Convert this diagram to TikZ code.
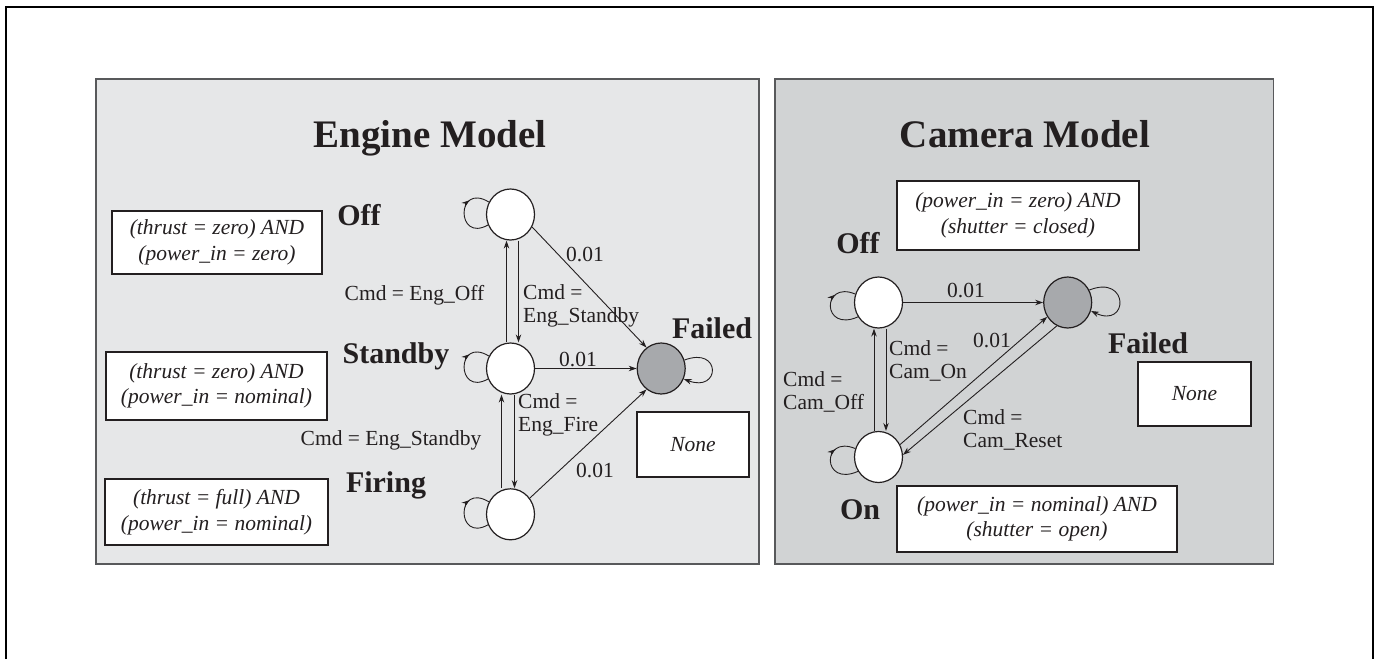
\documentclass[tikz,border=0pt]{standalone}
\usepackage{fontspec}
\setmainfont{Liberation Serif}
\usetikzlibrary{arrows.meta,shapes.geometric,decorations.markings}

\definecolor{ink}{HTML}{231F20}
\definecolor{enginebg}{HTML}{E6E7E8}
\definecolor{camerabg}{HTML}{D1D3D4}
\definecolor{failgray}{HTML}{A7A9AC}
\definecolor{panelrule}{HTML}{58595B}

\tikzset{
  tip/.tip={Stealth[length=8pt,width=5.5pt]},
  panel/.style={draw=panelrule, line width=1.6pt},
  titlefont/.style={font=\fontsize{39}{44}\selectfont\bfseries, text=ink, inner sep=0pt},
  statelbl/.style={font=\fontsize{30}{34}\selectfont\bfseries, text=ink, inner sep=0pt},
  state/.style={ellipse, draw=ink, line width=1.2pt, fill=white,
                minimum width=48pt, minimum height=51pt, inner sep=0pt},
  cond/.style={draw=ink, line width=1.3pt, fill=white, text=ink, align=center,
               font=\fontsize{21.5}{25.5}\selectfont\itshape, inner sep=0pt},
  lbl/.style={font=\fontsize{21.5}{23}\selectfont, text=ink, inner sep=0pt},
  lbll/.style={lbl, align=left, anchor=west},
  conn/.style={draw=ink, line width=0.9pt, -tip},
  loopL/.style={draw=ink, line width=0.9pt,
    decoration={markings, mark=at position 0.7 with {\arrow{tip}}},
    postaction={decorate}},
}

\begin{document}
\begin{tikzpicture}[x=1pt, y=-1pt]
\useasboundingbox (0,0) rectangle (1379,659);

% outer frame (runs off the lower edge of the page)
\draw[black, line width=2pt] (6,659) -- (6,7) -- (1373,7) -- (1373,659);

% ---------- Engine model ----------
\draw[panel, fill=enginebg] (96,79) rectangle (759,564);
\node[titlefont, anchor=base] (etitle) at (430,147) {Engine Model};

\node[state] (eoff)  at (510.5,214.5) {};
\node[state] (estb)  at (510.5,368.5) {};
\node[state] (efire) at (510.5,514.3) {};
\node[state, fill=failgray] (efail) at (661.2,368.5) {};

\node[statelbl, anchor=base] (eoffl)  at (359,225) {Off};
\node[statelbl, anchor=base] (estbl)  at (396,363) {Standby};
\node[statelbl, anchor=base] (efirel) at (386,492) {Firing};
\node[statelbl, anchor=base] (efaill) at (712,338) {Failed};

\node[cond, minimum width=210pt, minimum height=63pt] (eoffc)  at (217,242.5)
  {(thrust = zero) AND\\(power\_in = zero)};
\node[cond, minimum width=221pt, minimum height=68pt] (estbc)  at (216.5,386)
  {(thrust = zero) AND\\(power\_in = nominal)};
\node[cond, minimum width=223pt, minimum height=66pt] (efirec) at (216.5,512)
  {(thrust = full) AND\\(power\_in = nominal)};
\node[cond, minimum width=112pt, minimum height=65pt] (efailc) at (693,444.5) {None};

% transitions
\draw[conn] (eoff.-30) -- (efail.125);
\draw[conn] (estb.east) -- (efail.west);
\draw[conn] (efire.40) -- (efail.235);
\draw[conn] ([xshift=-4pt]estb.north) -- ([xshift=-4pt]eoff.south);
\draw[conn] ([xshift=8pt]eoff.south) -- ([xshift=8pt]estb.north);
\draw[conn] ([xshift=-9pt]efire.north) -- ([xshift=-9pt]estb.south);
\draw[conn] ([xshift=4pt]estb.south) -- ([xshift=4pt]efire.north);

% self loops
\draw[loopL] (eoff.205)  .. controls +(-32,18) and +(-33,-20) .. (eoff.150);
\draw[loopL] (estb.205)  .. controls +(-32,18) and +(-33,-20) .. (estb.150);
\draw[loopL] (efire.205) .. controls +(-32,18) and +(-33,-20) .. (efire.150);
\draw[conn]  (efail.20)  .. controls +(37,-14) and +(37,14) .. (efail.-25);

% transition labels
\node[lbl]  (l1) at (414.5,295) {Cmd = Eng\_Off};
\node[lbll] (l2) at (523,306)   {Cmd =\\Eng\_Standby};
\node[lbl]  (l3) at (585,254)   {0.01};
\node[lbl]  (l4) at (578,359)   {0.01};
\node[lbll] (l5) at (518,415)   {Cmd =\\Eng\_Fire};
\node[lbl]  (l6) at (391,440)   {Cmd = Eng\_Standby};
\node[lbl]  (l7) at (595,470)   {0.01};

% ---------- Camera model ----------
\draw[panel, fill=camerabg] (775,79) rectangle (1273.5,564);
\node[titlefont, anchor=base] (ctitle) at (1025,147) {Camera Model};

\node[state] (coff) at (878.5,302.5) {};
\node[state] (con)  at (878.5,457) {};
\node[state, fill=failgray] (cfail) at (1067.7,302.5) {};

\node[statelbl, anchor=base] (coffl)  at (858,253)  {Off};
\node[statelbl, anchor=base] (conl)   at (860,519)  {On};
\node[statelbl, anchor=base] (cfaill) at (1148,353) {Failed};

\node[cond, minimum width=242pt, minimum height=69pt] (coffc)  at (1018,215.5)
  {(power\_in = zero) AND\\(shutter = closed)};
\node[cond, minimum width=280pt, minimum height=66pt] (conc)   at (1037,519)
  {(power\_in = nominal) AND\\(shutter = open)};
\node[cond, minimum width=113pt, minimum height=64pt] (cfailc) at (1194.5,394) {None};

\draw[conn] (coff.east) -- (cfail.west);
\draw[conn] ([xshift=-4.5pt]con.north) -- ([xshift=-4.5pt]coff.south);
\draw[conn] ([xshift=7.5pt]coff.south) -- ([xshift=7.5pt]con.north);
\draw[conn] (con.30) -- (cfail.215);
\draw[conn] (cfail.245) -- (con.5);

\draw[loopL] (coff.215) .. controls +(-36.5,16) and +(-33.6,-14) .. (coff.160);
\draw[loopL] (con.215)  .. controls +(-36.5,16) and +(-33.6,-14) .. (con.160);
\draw[conn]  (cfail.30) .. controls +(40,-16) and +(38,18) .. (cfail.-20);

\node[lbl]  (m1) at (966,290)    {0.01};
\node[lbll] (m2) at (889,361)    {Cmd =\\Cam\_On};
\node[lbll] (m3) at (783,391.5)  {Cmd =\\Cam\_Off};
\node[lbl]  (m4) at (992,340)    {0.01};
\node[lbll] (m5) at (963,429.5)  {Cmd =\\Cam\_Reset};
\end{tikzpicture}
\end{document}
